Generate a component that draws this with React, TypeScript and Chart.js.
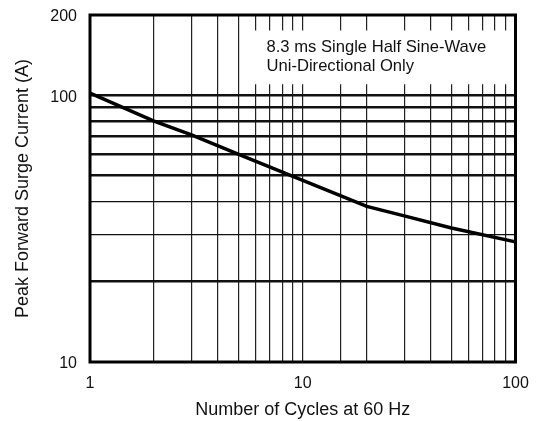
import { useEffect, useRef } from "react";
import { Chart, registerables } from "chart.js";

Chart.register(...registerables);

// Surge rating curve: number of cycles vs. peak forward surge current
const cycles = [1, 2, 3, 5, 10, 20, 30, 50, 100];
const surgeCurrent = [102, 80, 71, 60, 48, 38.3, 35.3, 31.8, 28.2];

// Labelled ticks on each axis (other log ticks only get grid lines)
const xTickLabels = [1, 10, 100];
const yTickLabels = [10, 100, 200];

// Horizontal grid lines drawn heavier
const heavyGridValues = [20, 50, 60, 70, 80, 90, 100];

const noteLines = ["8.3 ms Single Half Sine-Wave", "Uni-Directional Only"];
const xTitle = "Number of Cycles at 60 Hz";
const yTitle = "Peak Forward Surge Current (A)";

const FONT = "'Liberation Sans', Arial, Helvetica, sans-serif";
const INK = "#111";

const hasValue = (list: number[], v: number) =>
  list.some((t) => Math.abs(t - v) < 1e-6 * t);

// Note box (white panel over the grid) and the heavy frame around the plot
const frameAndNote = {
  id: "frameAndNote",
  beforeDatasetsDraw(chart: any) {
    const { ctx, chartArea, scales } = chart;
    const x0 = scales.x.getPixelForValue(5.5);
    const y0 = scales.y.getPixelForValue(175);
    const y1 = scales.y.getPixelForValue(110);
    ctx.save();
    ctx.fillStyle = "#fff";
    ctx.fillRect(x0, y0, chartArea.right - 1.5 - x0, y1 - y0);
    ctx.fillStyle = INK;
    ctx.font = `16.6px ${FONT}`;
    ctx.textAlign = "left";
    ctx.textBaseline = "alphabetic";
    ctx.fillText(noteLines[0], x0 + 19, y0 + 21.5);
    ctx.fillText(noteLines[1], x0 + 19, y0 + 40.5);
    ctx.restore();
  },
  afterDatasetsDraw(chart: any) {
    const { ctx, chartArea: a } = chart;
    ctx.save();
    ctx.strokeStyle = "#000";
    ctx.lineWidth = 3;
    ctx.strokeRect(a.left, a.top, a.right - a.left, a.bottom - a.top);
    ctx.restore();
  },
};

export default function App() {
  const canvasRef = useRef<HTMLCanvasElement | null>(null);

  useEffect(() => {
    const canvas = canvasRef.current;
    if (!canvas) return;

    const chart = new Chart(canvas, {
      type: "line",
      data: {
        datasets: [
          {
            data: cycles.map((c, i) => ({ x: c, y: surgeCurrent[i] })),
            borderColor: "#000",
            borderWidth: 3.5,
            pointRadius: 0,
            tension: 0,
            fill: false,
          },
        ],
      },
      options: {
        animation: false,
        responsive: false,
        layout: { padding: { top: 15, right: 23.5, left: 0, bottom: 0 } },
        plugins: {
          legend: { display: false },
          tooltip: { enabled: false },
        },
        scales: {
          x: {
            type: "logarithmic",
            position: "bottom",
            min: 1,
            max: 100,
            afterFit: (s: any) => {
              s.height = 59;
              s.paddingLeft = 0;
              s.paddingRight = 0;
            },
            border: { display: false },
            grid: {
              color: "#222",
              lineWidth: 1.2,
              drawTicks: false,
            },
            ticks: {
              autoSkip: false,
              maxRotation: 0,
              padding: 12,
              color: INK,
              font: { family: FONT, size: 16 },
              callback: (v: any) =>
                hasValue(xTickLabels, Number(v)) ? String(v) : "",
            },
            title: {
              display: true,
              text: xTitle,
              color: INK,
              font: { family: FONT, size: 18 },
              padding: { top: 0, bottom: 0 },
            },
          },
          y: {
            type: "logarithmic",
            position: "left",
            min: 10,
            max: 200,
            // keep decade steps only: 10..100 by tens, then 200
            afterBuildTicks: (s: any) => {
              s.ticks = s.ticks.filter(
                (t: any) => t.value <= 100 + 1e-6 || hasValue([200], t.value)
              );
            },
            afterFit: (s: any) => {
              s.width = 90;
              s.paddingTop = 0;
              s.paddingBottom = 0;
            },
            border: { display: false },
            grid: {
              color: "#111",
              lineWidth: (c: any) =>
                c.tick && hasValue(heavyGridValues, c.tick.value) ? 2.6 : 1.2,
              drawTicks: false,
            },
            ticks: {
              autoSkip: false,
              padding: 13,
              labelOffset: 2,
              color: INK,
              font: { family: FONT, size: 16 },
              callback: (v: any) =>
                hasValue(yTickLabels, Number(v)) ? String(v) : "",
            },
            title: {
              display: true,
              text: yTitle,
              color: INK,
              font: { family: FONT, size: 18 },
              padding: { top: 12, bottom: 0 },
            },
          },
        },
      },
      plugins: [frameAndNote],
    });

    return () => chart.destroy();
  }, []);

  return (
    <div
      style={{
        position: "absolute",
        left: 0,
        top: 0,
        width: 539,
        height: 421,
        background: "#fff",
      }}
    >
      <canvas
        ref={canvasRef}
        width={539}
        height={421}
        style={{ display: "block", width: 539, height: 421 }}
      />
    </div>
  );
}
